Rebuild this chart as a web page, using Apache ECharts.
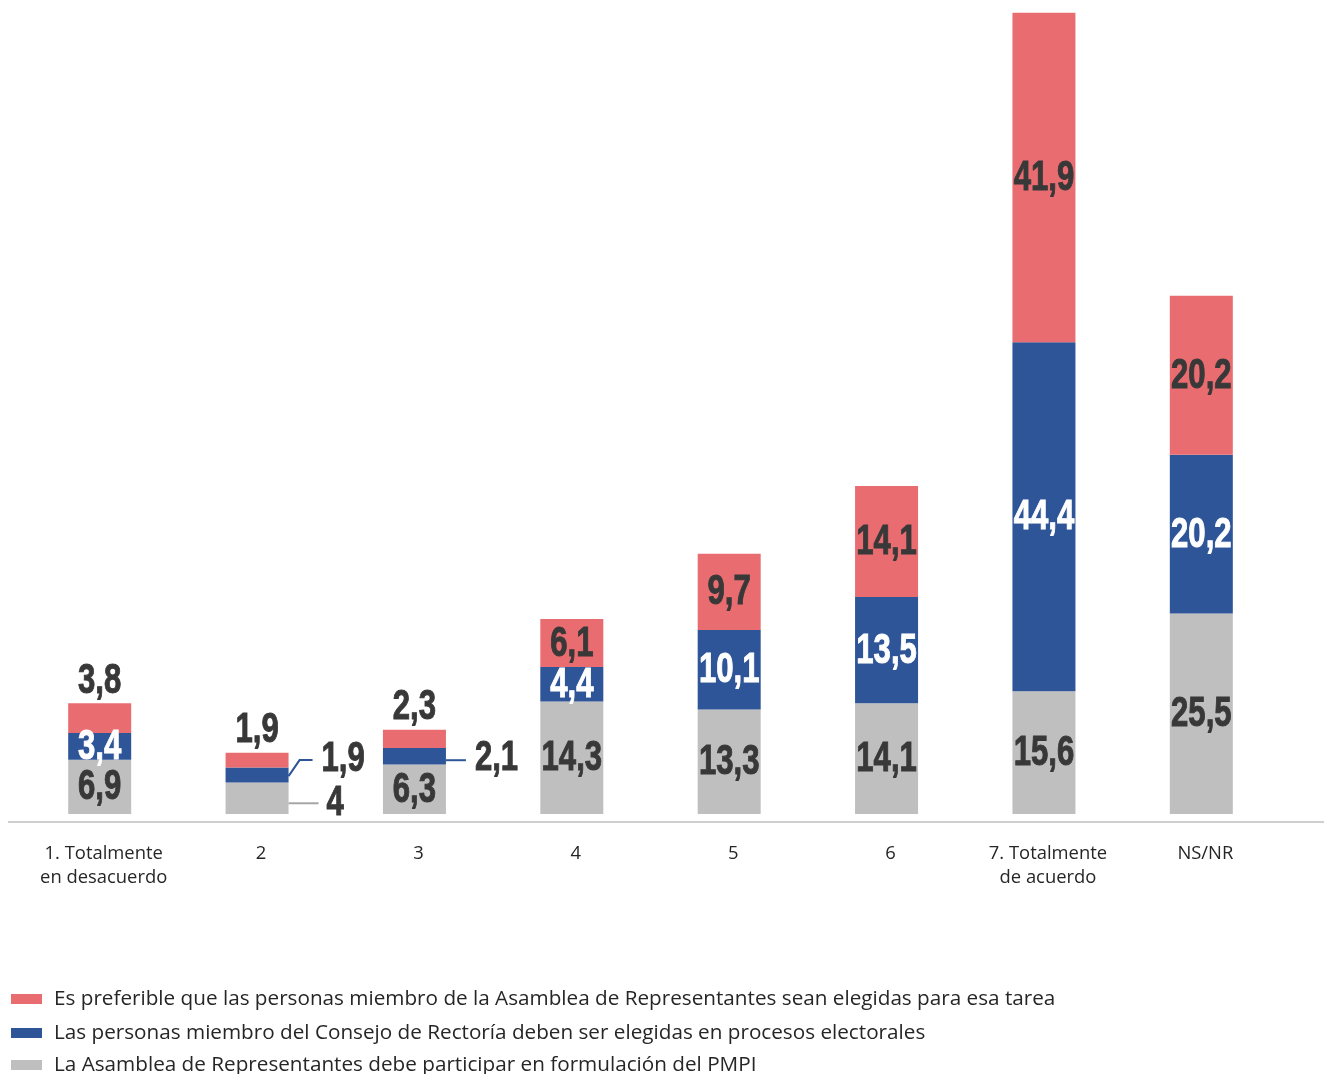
<!DOCTYPE html>
<html>
<head>
<meta charset="utf-8">
<title>Asamblea de Representantes y Consejo de Rectoría</title>
<script src="https://cdn.jsdelivr.net/npm/echarts@6/dist/echarts.min.js"></script>
<style>
  html, body { margin: 0; padding: 0; background: #ffffff; }
  #chart { width: 1324px; height: 1074px; }
</style>
</head>
<body>
<div id="chart"></div>
<script>
// Escala de acuerdo (1 a 7) y NS/NR
const categories = [
  '1. Totalmente\nen desacuerdo', '2', '3', '4', '5', '6',
  '7. Totalmente\nde acuerdo', 'NS/NR'
];

const seriesNames = [
  'La Asamblea de Representantes debe participar en formulación del PMPI',
  'Las personas miembro del Consejo de Rectoría deben ser elegidas en procesos electorales',
  'Es preferible que las personas miembro de la Asamblea de Representantes sean elegidas para esa tarea'
];

// Porcentajes por afirmación (de abajo hacia arriba en la pila)
const asambleaPMPI = [6.9, 4, 6.3, 14.3, 13.3, 14.1, 15.6, 25.5];
const consejoElectoral = [3.4, 1.9, 2.1, 4.4, 10.1, 13.5, 44.4, 20.2];
const asambleaElegidas = [3.8, 1.9, 2.3, 6.1, 9.7, 14.1, 41.9, 20.2];

const stackValues = [asambleaPMPI, consejoElectoral, asambleaElegidas];

const colors = ['#BFBFBF', '#2E5597', '#E96C70'];
const darkText = '#383838';
const labelFont = "bold 42px 'Liberation Sans', Arial, sans-serif";
const labelScaleX = 0.74;
const textFont = "'Open Sans', 'Noto Sans', sans-serif";
const BAR_WIDTH = 63;

// Ubicación de las etiquetas que no caben dentro de su segmento
// (clave: "categoría-segmento")
const labelPlacement = {
  '0-2': { type: 'top' },
  '1-2': { type: 'top' },
  '2-2': { type: 'top' },
  '1-1': { type: 'right', dy: -16, lineDy: -15, startDy: 1, elbow: 11, lineEnd: 24, textDx: 33 },
  '1-0': { type: 'right', dy: 5, lineDy: 5, startDy: 5, elbow: 1, lineEnd: 30, textDx: 38 },
  '2-1': { type: 'right', dy: 2.5, lineDy: 4, startDy: 4, elbow: 0, lineEnd: 20, textDx: 29 }
};

const fmt = v => String(v).replace('.', ',');

function valueText(x, y, text, fill, align) {
  return {
    type: 'text',
    x: x,
    y: y,
    scaleX: labelScaleX,
    scaleY: 1,
    style: {
      text: text,
      fill: fill,
      stroke: fill,
      lineWidth: 1,
      font: labelFont,
      align: align,
      verticalAlign: 'middle'
    }
  };
}

// Etiquetas de valor de cada segmento, posicionadas con la escala del gráfico
function renderValueLabel(params, api) {
  const i = api.value(0);
  const s = api.value(1);
  const vals = stackValues.map(arr => arr[i]);
  let base = 0;
  for (let k = 0; k < s; k++) base += vals[k];
  const v = vals[s];
  const mid = api.coord([i, base + v / 2]);
  const top = api.coord([i, base + v]);
  const place = labelPlacement[i + '-' + s];
  const text = fmt(v);

  if (!place) {
    return valueText(mid[0], mid[1] + 1, text, s === 1 ? '#FFFFFF' : darkText, 'center');
  }
  if (place.type === 'top') {
    return valueText(top[0], top[1] - 22, text, darkText, 'center');
  }
  const right = mid[0] + BAR_WIDTH / 2;
  const lineY = mid[1] + place.lineDy;
  return {
    type: 'group',
    children: [
      {
        type: 'polyline',
        shape: {
          points: [
            [right, mid[1] + place.startDy],
            [right + place.elbow, lineY],
            [right + place.lineEnd, lineY]
          ]
        },
        style: { stroke: s === 1 ? colors[1] : '#A6A6A6', lineWidth: 2, fill: null }
      },
      valueText(right + place.textDx, mid[1] + place.dy, text, darkText, 'left')
    ]
  };
}

const labelItems = [];
categories.forEach((c, i) => {
  stackValues.forEach((arr, s) => labelItems.push([i, s]));
});

const chart = echarts.init(document.getElementById('chart'), null, { renderer: 'canvas' });

const barCommon = {
  type: 'bar',
  stack: 'total',
  barWidth: BAR_WIDTH,
  emphasis: { disabled: true },
  label: { show: false }
};

const legendText = {
  fontFamily: textFont,
  fontSize: 20.7,
  lineHeight: 22,
  color: '#262626',
  padding: [0, 0, 0, 7]
};

function legendRow(name, top) {
  return {
    orient: 'horizontal',
    left: 11,
    top: top,
    padding: 0,
    icon: 'rect',
    itemWidth: 31,
    itemHeight: 10,
    selectedMode: false,
    data: [name],
    textStyle: legendText
  };
}

chart.setOption({
  animation: false,
  backgroundColor: '#ffffff',
  grid: { left: 21, right: 44, top: 12, bottom: 260, containLabel: false },
  legend: [
    legendRow(seriesNames[2], 988),
    legendRow(seriesNames[1], 1022),
    legendRow(seriesNames[0], 1054)
  ],
  xAxis: {
    type: 'category',
    data: categories,
    axisLine: { show: false },
    axisTick: { show: false },
    axisLabel: {
      interval: 0,
      margin: 28,
      fontFamily: textFont,
      fontSize: 18.4,
      lineHeight: 24,
      color: '#262626',
      padding: [0, 0, 0, 8]
    }
  },
  yAxis: {
    type: 'value',
    min: 0,
    max: 102,
    show: false,
    splitLine: { show: false }
  },
  graphic: [{
    type: 'line',
    shape: { x1: 8, y1: 822, x2: 1324, y2: 822 },
    style: { stroke: '#BFBFBF', lineWidth: 1.5 },
    silent: true
  }],
  series: [
    Object.assign({}, barCommon, {
      name: seriesNames[0],
      itemStyle: { color: colors[0] },
      data: asambleaPMPI
    }),
    Object.assign({}, barCommon, {
      name: seriesNames[1],
      itemStyle: { color: colors[1] },
      data: consejoElectoral
    }),
    Object.assign({}, barCommon, {
      name: seriesNames[2],
      itemStyle: { color: colors[2] },
      data: asambleaElegidas
    }),
    {
      type: 'custom',
      name: 'etiquetas',
      coordinateSystem: 'cartesian2d',
      renderItem: renderValueLabel,
      data: labelItems,
      encode: { x: 0 },
      z: 5,
      silent: true,
      tooltip: { show: false }
    }
  ]
});
</script>
</body>
</html>
